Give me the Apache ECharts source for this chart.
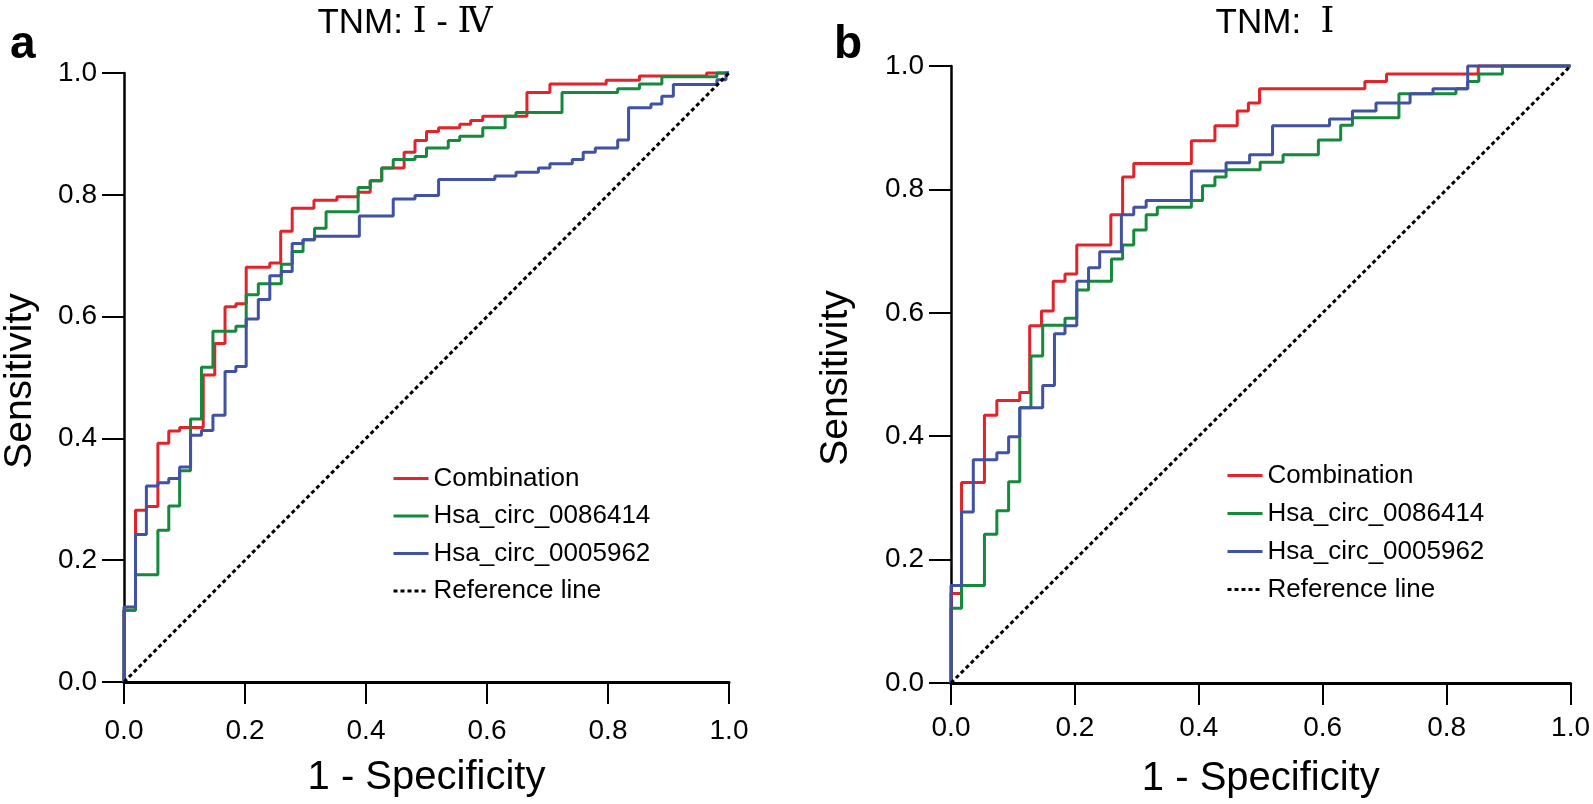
<!DOCTYPE html>
<html>
<head>
<meta charset="utf-8">
<style>
  html, body { margin: 0; padding: 0; background: #fff; }
  #chart { width: 1593px; height: 804px; }
</style>
<script src="https://cdn.jsdelivr.net/npm/echarts@6/dist/echarts.min.js"></script>
</head>
<body>
<div id="chart"></div>
<script>
// ROC 曲线：每个点是台阶竖线的顶端 (1-特异度, 灵敏度)
const seriesNames = ['Combination', 'Hsa_circ_0086414', 'Hsa_circ_0005962', 'Reference line'];
const colors = ['#e1242b', '#16893c', '#4152a2', '#000'];
const tickLabels = ['0.0', '0.2', '0.4', '0.6', '0.8', '1.0'];

// 面板 a：TNM I - IV
const aCombX = [0, 0, 0.019, 0.037, 0.056, 0.074, 0.092, 0.131, 0.150, 0.167, 0.185, 0.202, 0.241, 0.259, 0.278, 0.314, 0.352, 0.387, 0.407, 0.426, 0.463, 0.481, 0.500, 0.520, 0.555, 0.573, 0.593, 0.666, 0.704, 0.797, 0.852, 0.963, 1.0];
const aCombY = [0, 0.118, 0.282, 0.288, 0.392, 0.412, 0.418, 0.504, 0.556, 0.616, 0.621, 0.681, 0.688, 0.740, 0.778, 0.791, 0.797, 0.804, 0.823, 0.844, 0.870, 0.889, 0.904, 0.910, 0.916, 0.922, 0.929, 0.968, 0.982, 0.988, 0.995, 1.0, 1.0];
const aC86X = [0, 0, 0.019, 0.056, 0.074, 0.092, 0.110, 0.128, 0.147, 0.185, 0.202, 0.222, 0.260, 0.278, 0.296, 0.315, 0.334, 0.387, 0.407, 0.426, 0.445, 0.481, 0.500, 0.536, 0.555, 0.593, 0.630, 0.648, 0.724, 0.816, 0.852, 0.889, 0.980, 1.0];
const aC86Y = [0, 0.118, 0.176, 0.249, 0.289, 0.347, 0.432, 0.517, 0.576, 0.584, 0.636, 0.654, 0.686, 0.707, 0.726, 0.745, 0.772, 0.812, 0.823, 0.844, 0.858, 0.863, 0.877, 0.889, 0.896, 0.910, 0.929, 0.935, 0.968, 0.974, 0.982, 0.994, 1.0, 1.0];
const aC59X = [0, 0, 0.019, 0.037, 0.056, 0.074, 0.092, 0.110, 0.128, 0.147, 0.167, 0.185, 0.202, 0.222, 0.241, 0.260, 0.278, 0.296, 0.315, 0.389, 0.445, 0.481, 0.520, 0.613, 0.648, 0.685, 0.704, 0.741, 0.759, 0.779, 0.816, 0.834, 0.871, 0.889, 0.908, 0.980, 0.995, 1.0];
const aC59Y = [0, 0.123, 0.242, 0.322, 0.327, 0.334, 0.353, 0.405, 0.413, 0.438, 0.510, 0.518, 0.596, 0.628, 0.667, 0.674, 0.720, 0.726, 0.732, 0.765, 0.793, 0.799, 0.825, 0.831, 0.837, 0.844, 0.851, 0.858, 0.870, 0.877, 0.890, 0.943, 0.949, 0.962, 0.981, 0.989, 1.0, 1.0];

// 面板 b：TNM I
const bCombX = [0, 0, 0.017, 0.054, 0.074, 0.111, 0.127, 0.146, 0.165, 0.184, 0.203, 0.258, 0.277, 0.295, 0.388, 0.426, 0.462, 0.480, 0.498, 0.668, 0.703, 0.851, 1.0];
const bCombY = [0, 0.145, 0.325, 0.434, 0.458, 0.471, 0.579, 0.603, 0.651, 0.663, 0.710, 0.759, 0.820, 0.842, 0.879, 0.903, 0.927, 0.940, 0.963, 0.975, 0.987, 1.0, 1.0];
const bC86X = [0, 0, 0.017, 0.054, 0.074, 0.093, 0.111, 0.129, 0.148, 0.184, 0.203, 0.222, 0.259, 0.277, 0.295, 0.315, 0.333, 0.388, 0.406, 0.426, 0.444, 0.499, 0.536, 0.593, 0.629, 0.648, 0.723, 0.815, 0.834, 0.852, 0.890, 1.0];
const bC86Y = [0, 0.121, 0.158, 0.241, 0.279, 0.326, 0.446, 0.530, 0.580, 0.591, 0.637, 0.651, 0.687, 0.710, 0.734, 0.759, 0.771, 0.782, 0.806, 0.820, 0.832, 0.844, 0.856, 0.880, 0.904, 0.916, 0.955, 0.963, 0.975, 0.987, 1.0, 1.0];
const bC59X = [0, 0, 0.017, 0.036, 0.074, 0.093, 0.111, 0.148, 0.167, 0.184, 0.203, 0.222, 0.240, 0.275, 0.295, 0.315, 0.388, 0.444, 0.482, 0.519, 0.611, 0.648, 0.686, 0.741, 0.778, 0.834, 1.0];
const bC59Y = [0, 0.158, 0.277, 0.362, 0.373, 0.399, 0.446, 0.482, 0.566, 0.579, 0.651, 0.673, 0.699, 0.759, 0.771, 0.782, 0.830, 0.843, 0.856, 0.903, 0.914, 0.927, 0.940, 0.955, 0.963, 1.0, 1.0];

const refX = [0, 1];
const refY = [0, 1];

const FONT = "'Liberation Sans', Arial, sans-serif";
const ROMAN_FONT = "'DejaVu Serif', 'Noto Sans CJK SC', serif";

const zip = (xs, ys) => xs.map((x, i) => [x, ys[i]]);

const chart = echarts.init(document.getElementById('chart'), null, { renderer: 'canvas' });

function rocSeries(name, xs, ys, idx, gi) {
  return {
    name: name,
    type: 'line',
    xAxisIndex: gi,
    yAxisIndex: gi,
    step: 'end',
    symbol: 'none',
    clip: false,
    animation: false,
    data: zip(xs, ys),
    lineStyle: { color: colors[idx], width: 3 },
    itemStyle: { color: colors[idx] }
  };
}

function refSeries(gi) {
  return {
    name: seriesNames[3],
    type: 'line',
    xAxisIndex: gi,
    yAxisIndex: gi,
    symbol: 'none',
    clip: false,
    animation: false,
    data: zip(refX, refY),
    lineStyle: { color: '#000', width: 3, type: [4, 3] },
    itemStyle: { color: '#000' }
  };
}

function xAxisOf(gi, margin, nameGap) {
  return {
    gridIndex: gi,
    type: 'value',
    min: 0, max: 1, interval: 0.2,
    name: '1 - Specificity',
    nameLocation: 'middle',
    nameGap: nameGap,
    nameTextStyle: { color: '#000', fontSize: 40, fontFamily: FONT },
    axisLine: { show: true, onZero: false, lineStyle: { color: '#000', width: 3 } },
    axisTick: { show: true, length: 22, lineStyle: { color: '#000', width: 2 } },
    axisLabel: { color: '#000', fontSize: 28, fontFamily: FONT, margin: margin,
      formatter: v => tickLabels[Math.round(v * 5)] },
    splitLine: { show: false }
  };
}

function yAxisOf(gi, nameGap) {
  return {
    gridIndex: gi,
    type: 'value',
    min: 0, max: 1, interval: 0.2,
    name: 'Sensitivity',
    nameLocation: 'middle',
    nameGap: nameGap,
    nameTextStyle: { color: '#000', fontSize: 39, fontFamily: FONT, padding: [0, 7, 0, 0] },
    axisLine: { show: true, onZero: false, lineStyle: { color: '#000', width: 2.5 } },
    axisTick: { show: true, length: 22, lineStyle: { color: '#000', width: 2 } },
    axisLabel: { color: '#000', fontSize: 28, fontFamily: FONT, margin: 27,
      formatter: v => tickLabels[Math.round(v * 5)] },
    splitLine: { show: false }
  };
}

function legendOf(left, top, gap) {
  return {
    orient: 'vertical',
    left: left,
    top: top,
    padding: 0,
    itemWidth: 35,
    itemHeight: 14,
    itemGap: gap,
    selectedMode: false,
    data: seriesNames,
    itemStyle: { opacity: 0 },
    lineStyle: { width: 3 },
    textStyle: { color: '#000', fontSize: 26, fontFamily: FONT }
  };
}

function titleOf(text, x) {
  return {
    text: text,
    left: x,
    top: 0,
    textAlign: 'center',
    textStyle: {
      fontSize: 35, fontWeight: 'normal', fontFamily: FONT, color: '#000',
      rich: {
        t: { fontSize: 35, fontFamily: FONT, color: '#000', lineHeight: 36 },
        r: { fontSize: 35, fontFamily: ROMAN_FONT, color: '#000', lineHeight: 36 }
      }
    }
  };
}

const option = {
  backgroundColor: '#fff',
  animation: false,
  title: [
    { text: 'a', left: 5, top: 17, textStyle: { fontSize: 46, fontWeight: 'bold', fontFamily: FONT, color: '#000' } },
    { text: 'b', left: 829, top: 17, textStyle: { fontSize: 46, fontWeight: 'bold', fontFamily: FONT, color: '#000' } },
    titleOf('{t|TNM: }{r|Ⅰ}{t| - }{r|Ⅳ}', 400),
    titleOf('{t|TNM:  }{r|Ⅰ}', 1270)
  ],
  grid: [
    { left: 124, top: 73, width: 605, height: 609 },
    { left: 951, top: 66, width: 620, height: 622 }
  ],
  xAxis: [xAxisOf(0, 35, 76), xAxisOf(1, 31, 76)],
  yAxis: [yAxisOf(0, 84), yAxisOf(1, 95)],
  legend: [legendOf(392, 465.5, 11.5), legendOf(1226, 462.5, 12)],
  series: [
    rocSeries(seriesNames[0], aCombX, aCombY, 0, 0),
    rocSeries(seriesNames[1], aC86X, aC86Y, 1, 0),
    rocSeries(seriesNames[2], aC59X, aC59Y, 2, 0),
    refSeries(0),
    rocSeries(seriesNames[0], bCombX, bCombY, 0, 1),
    rocSeries(seriesNames[1], bC86X, bC86Y, 1, 1),
    rocSeries(seriesNames[2], bC59X, bC59Y, 2, 1),
    refSeries(1)
  ]
};

chart.setOption(option);
</script>
</body>
</html>
